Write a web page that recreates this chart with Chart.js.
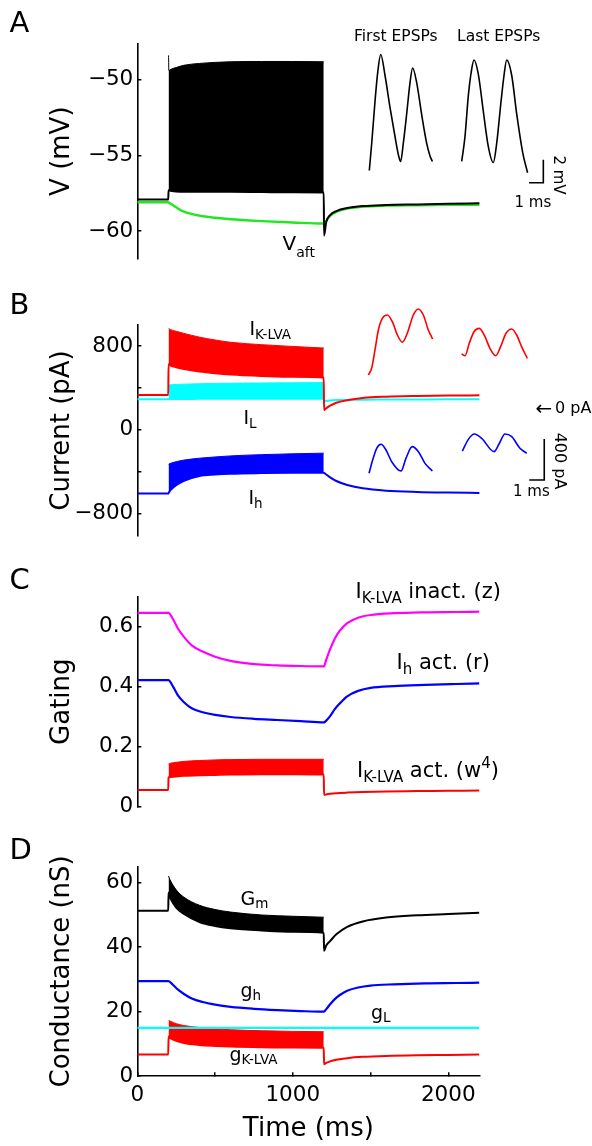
<!DOCTYPE html>
<html>
<head>
<meta charset="utf-8">
<script src="https://cdn.jsdelivr.net/npm/chart.js@4.4.1/dist/chart.umd.min.js"></script>
<style>
  html, body { margin: 0; padding: 0; background: #fff; }
  #fig { position: relative; width: 592px; height: 1146px; overflow: hidden; font-family: 'DejaVu Sans', sans-serif; color: #000; }
  #fig canvas { position: absolute; left: 0; }
  .lab { position: absolute; white-space: nowrap; line-height: 1; }
  .lab .sb { position: relative; }
  .rot { position: absolute; white-space: nowrap; line-height: 1; transform: translate(-50%, -50%) rotate(90deg); }
</style>
</head>
<body>
<div id="fig">
  <canvas id="panelA" width="592" height="280" style="top:0px"></canvas>
  <canvas id="panelB" width="592" height="300" style="top:280px"></canvas>
  <canvas id="panelC" width="592" height="280" style="top:560px"></canvas>
  <canvas id="panelD" width="592" height="306" style="top:840px"></canvas>
</div>
<script>
// ---- time grid (ms): before, during and after the 200-1200 ms train ----
const tPre  = [0, 199];
const tBand = [201, 203, 215, 250, 300, 400, 500, 600, 800, 1000, 1199];
const tPost = [1201, 1215, 1240, 1280, 1350, 1450, 1600, 1800, 2000, 2200];
const tSlow = [0, 200, 230, 260, 300, 350, 420, 500, 600, 750, 900, 1050, 1200,
               1215, 1240, 1270, 1300, 1350, 1420, 1500, 1650, 1850, 2050, 2200];

// ---- A: membrane potential (mV) ----
const vPre   = [-57.92, -57.92];
const vLow   = [-57.3, -57.3, -57.33, -57.38, -57.4, -57.4, -57.4, -57.4, -57.42, -57.44, -57.45];
const vHigh  = [-48.4, -49.4, -49.32, -49.2, -49.05, -48.93, -48.86, -48.82, -48.8, -48.8, -48.82];
const vPost  = [-60.3, -59.4, -58.95, -58.68, -58.48, -58.35, -58.28, -58.24, -58.2, -58.17];
const vaPre  = [-58.1, -58.1];
const vaStim = [-58.11, -58.12, -58.2, -58.43, -58.72, -58.98, -59.12, -59.22, -59.34, -59.43, -59.5];
const vaPost = [-59.48, -59.32, -59.0, -58.74, -58.52, -58.39, -58.32, -58.29, -58.27, -58.26];

// EPSP insets (ms, mV relative to trace start)
const firstEpspT = [0, 0.17, 0.40, 0.59, 0.80, 1.10, 1.45, 1.80, 2.03, 2.19, 2.38, 2.61, 2.85, 3.03, 3.31, 3.66, 4.01, 4.24, 4.41];
const firstEpspV = [0, 2.4, 6.05, 8.6, 10.13, 8.3, 5.5, 2.95, 1.4, 0.79, 2.4, 4.9, 7.7, 8.95, 7.7, 4.9, 2.4, 1.3, 0.79];
const lastEpspT  = [6.46, 6.69, 6.93, 7.16, 7.32, 7.62, 7.97, 8.32, 8.67, 8.91, 9.19, 9.42, 9.61, 9.96, 10.31, 10.73, 11.07];
const lastEpspV  = [0.79, 2.95, 6.61, 8.86, 9.65, 8.44, 5.2, 2.11, 0.7, 2.39, 5.77, 8.3, 9.65, 8.3, 4.92, 1.55, -0.2];
const barAT = [11.17, 12.17, 12.17];
const barAV = [-1.07, -1.07, 0.93];

// ---- B: currents (pA) ----
const ikPre  = [332, 332];
const ikLow  = [625, 622, 612, 597, 580, 556, 540, 528, 514, 505, 498];
const ikHigh = [968, 965, 955, 940, 920, 884, 857, 835, 812, 795, 780];
const ikPost = [189, 205, 230, 258, 282, 303, 315, 322, 326, 328];
const ilPre  = [291, 291];
const ilLow  = [292, 292, 293, 294, 294, 295, 295, 295, 295, 295, 295];
const ilHigh = [425, 427, 429, 432, 435, 439, 442, 444, 446, 448, 450];
const ilPost = [268, 276, 280, 283, 285, 287, 288, 289, 290, 290];
const ihPre  = [-610, -610];
const ihLow  = [-605, -600, -575, -530, -488, -442, -428, -420, -414, -411, -410];
const ihHigh = [-330, -327, -320, -305, -290, -272, -260, -250, -238, -230, -224];
const ihPost = [-412, -428, -455, -490, -528, -560, -582, -594, -600, -604];

// EPSC insets (ms, pA)
const ikFirstT = [0, 0.22, 0.445, 0.67, 0.935, 1.27, 1.6, 1.94, 2.27, 2.6, 3.0, 3.33, 3.67, 4.0, 4.29];
const ikFirstV = [325, 390, 569, 764, 878, 910, 845, 715, 644, 732, 910, 969, 910, 764, 676];
const ikLastT  = [6.22, 6.45, 6.73, 7.05, 7.4, 7.78, 8.11, 8.49, 8.82, 9.18, 9.56, 9.89, 10.22, 10.6];
const ikLastV  = [530, 513, 634, 747, 780, 699, 585, 513, 601, 732, 774, 715, 601, 488];
const ihFirstT = [0.05, 0.29, 0.56, 0.85, 1.18, 1.56, 2.18, 2.51, 2.93, 3.34, 3.78, 4.27];
const ihFirstV = [-634, -504, -390, -351, -407, -521, -612, -488, -374, -423, -537, -612];
const ihLastT  = [6.27, 6.67, 7.07, 7.56, 8.38, 8.74, 9.11, 9.56, 10.11, 10.56];
const ihLastV  = [-417, -303, -251, -293, -423, -341, -251, -277, -390, -439];
const barBT = [10.73, 11.73, 11.73];
const barBV = [-700, -700, -300];

// ---- C: gating variables ----
const zGate = [0.646, 0.646, 0.625, 0.595, 0.566, 0.538, 0.517, 0.5, 0.486, 0.475, 0.471, 0.469, 0.468,
               0.49, 0.525, 0.56, 0.585, 0.612, 0.63, 0.639, 0.645, 0.648, 0.649, 0.65];
const rGate = [0.422, 0.422, 0.4, 0.372, 0.348, 0.328, 0.315, 0.306, 0.299, 0.293, 0.289, 0.285, 0.281,
               0.287, 0.302, 0.325, 0.343, 0.368, 0.386, 0.396, 0.402, 0.406, 0.409, 0.411];
const w4Pre  = [0.056, 0.056];
const w4Low  = [0.097, 0.098, 0.099, 0.101, 0.103, 0.105, 0.106, 0.107, 0.108, 0.108, 0.107];
const w4High = [0.142, 0.143, 0.145, 0.148, 0.151, 0.154, 0.156, 0.157, 0.158, 0.158, 0.158];
const w4Post = [0.039, 0.041, 0.043, 0.045, 0.047, 0.049, 0.051, 0.052, 0.053, 0.054];

// ---- D: conductances (nS) ----
const gmPre  = [51.3, 51.3];
const gmLow  = [57.0, 56.5, 55.0, 52.3, 50.3, 47.8, 46.6, 45.9, 45.2, 44.8, 44.5];
const gmHigh = [62.1, 61.8, 60.5, 57.8, 55.5, 53.0, 51.7, 50.9, 50.0, 49.6, 49.3];
const gmPost = [38.9, 40.5, 41.9, 44.0, 46.3, 48.0, 49.2, 49.9, 50.3, 50.7];
const ghSlow = [29.5, 29.5, 28.3, 26.9, 25.5, 24.1, 23.0, 22.2, 21.5, 20.9, 20.5, 20.2, 20.0,
                20.8, 22.3, 23.9, 25.1, 26.5, 27.5, 28.1, 28.5, 28.8, 28.9, 29.0];
const glT = [0, 2200];
const glV = [15, 15];
const gkPre  = [6.7, 6.7];
const gkLow  = [12.3, 12.2, 11.7, 11.0, 10.3, 9.7, 9.4, 9.2, 9.0, 8.9, 8.8];
const gkHigh = [17.4, 17.3, 17.0, 16.3, 15.7, 15.1, 14.7, 14.4, 14.1, 13.9, 13.8];
const gkPost = [3.7, 4.1, 4.6, 5.1, 5.6, 6.0, 6.3, 6.5, 6.6, 6.7];

// ---- axis ticks ----
const vTicks = [-60, -55, -50];
const iTicks = [-800, -400, 0, 400, 800];
const iLabeled = [-800, 0, 800];
const gateTicks = [0, 0.2, 0.4, 0.6];
const gTicks = [0, 20, 40, 60];
const timeTicks = [0, 500, 1000, 1500, 2000];
const timeLabeled = [0, 1000, 2000];
const T_END = 2200;

// ---- layout (page pixels) ----
const FONT = 'DejaVu Sans';
const FIG_W = 592;
const AREA_LEFT = 137.3;
const AREA_RIGHT = 479.4;   // where T_END falls
const WIDE_RIGHT = 586;     // plot area of panels that carry insets on the right

const pts = (ts, vs) => ts.map((t, i) => ({ x: t, y: vs[i] }));
const minus = v => (v < 0 ? '\u2212' + Math.abs(v) : String(v));

function trace(data, color, width, extra) {
  return Object.assign({
    data, borderColor: color, backgroundColor: color, borderWidth: width,
    pointRadius: 0, fill: false, cubicInterpolationMode: 'monotone'
  }, extra || {});
}
// full trace: baseline, lower edge of the train, recovery
function mainTrace(pre, low, post, color) {
  return trace(pts(tPre.concat(tBand, tPost), pre.concat(low, post)), color, 2);
}
// upper edge of the train, filled down to the trace before it
function bandTop(high, color) {
  return trace(pts(tBand, high), color, 1, { fill: '-1' });
}
function inset(ts, vs, color) {
  return trace(pts(ts, vs), color, 1.6, { xAxisID: 'xi', yAxisID: 'yi', clip: false });
}
function scaleBar(ts, vs) {
  return trace(pts(ts, vs), '#000', 1.6, { xAxisID: 'xi', yAxisID: 'yi', clip: false, cubicInterpolationMode: 'default', tension: 0 });
}

function yAxis(range, ticks, labeled, fmt, title) {
  return {
    type: 'linear', position: 'left', min: range[0], max: range[1],
    afterFit: s => { s.width = AREA_LEFT; },
    afterBuildTicks: s => { s.ticks = ticks.map(v => ({ value: v })); },
    ticks: {
      color: '#000', font: { family: FONT, size: 21.5 }, padding: 8,
      callback: v => (labeled.includes(v) ? fmt(v) : '')
    },
    grid: { drawOnChartArea: false, color: '#000', lineWidth: 1.5, tickLength: -4 },
    border: { color: '#000', width: 1.6 },
    title: { display: true, text: title, color: '#000', font: { family: FONT, size: 26 }, padding: { top: 47, bottom: 0 } }
  };
}
// time axis without a drawn line; stretched so T_END still lands on AREA_RIGHT
function hiddenTime(areaRight) {
  return { type: 'linear', min: 0, max: T_END * (areaRight - AREA_LEFT) / (AREA_RIGHT - AREA_LEFT), display: false };
}
function insetX(originPx, pxPerUnit, areaRight) {
  return { type: 'linear', axis: 'x', position: 'bottom', display: false,
    min: (AREA_LEFT - originPx) / pxPerUnit, max: (areaRight - originPx) / pxPerUnit };
}
function insetY(originPx, pxPerUnit, areaTop, areaBottom) {
  return { type: 'linear', axis: 'y', position: 'left', display: false,
    min: (originPx - areaBottom) / pxPerUnit, max: (originPx - areaTop) / pxPerUnit };
}

function panel(id, canvasTop, canvasH, areaTop, areaBottom, areaRight, datasets, scales, bottomPad) {
  return new Chart(document.getElementById(id), {
    type: 'line',
    data: { datasets },
    options: {
      responsive: false, animation: false, events: [],
      layout: { padding: {
        left: 0, right: FIG_W - areaRight, top: areaTop - canvasTop,
        bottom: bottomPad !== undefined ? bottomPad : canvasTop + canvasH - areaBottom
      } },
      plugins: { legend: { display: false }, tooltip: { enabled: false } },
      scales
    }
  });
}

// ---- A ----
panel('panelA', 0, 280, 43.3, 266.7, WIDE_RIGHT, [
  mainTrace(vPre, vLow, vPost, '#000'),
  bandTop(vHigh, '#000'),
  trace(pts(tPre.concat(tBand, tPost), vaPre.concat(vaStim, vaPost)), '#1fe81f', 2.4),
  inset(firstEpspT, firstEpspV, '#000'),
  inset(lastEpspT, lastEpspV, '#000'),
  scaleBar(barAT, barAV)
], {
  x: hiddenTime(WIDE_RIGHT),
  y: yAxis([-61.85, -47.6], vTicks, vTicks, minus, 'V (mV)'),
  xi: insetX(369.3, 14.3, WIDE_RIGHT),
  yi: insetY(175, 11.85, 43.3, 266.7)
});

// ---- B ----
panel('panelB', 280, 300, 325, 536, WIDE_RIGHT, [
  mainTrace(ikPre, ikLow, ikPost, '#ff0000'),
  bandTop(ikHigh, '#ff0000'),
  mainTrace(ilPre, ilLow, ilPost, '#00ffff'),
  bandTop(ilHigh, '#00ffff'),
  mainTrace(ihPre, ihLow, ihPost, '#0000ff'),
  bandTop(ihHigh, '#0000ff'),
  inset(ikFirstT, ikFirstV, '#ff0000'),
  inset(ikLastT, ikLastV, '#ff0000'),
  inset(ihFirstT, ihFirstV, '#0000ff'),
  inset(ihLastT, ihLastV, '#0000ff'),
  scaleBar(barBT, barBV)
], {
  x: hiddenTime(WIDE_RIGHT),
  y: yAxis([-1015, 1000], iTicks, iLabeled, minus, 'Current (pA)'),
  xi: insetX(368.3, 15, WIDE_RIGHT),
  yi: insetY(408.3, 0.1025, 325, 536)
});

// ---- C ----
panel('panelC', 560, 280, 596.7, 806.7, AREA_RIGHT, [
  trace(pts(tSlow, zGate), '#ff00ff', 2.2),
  trace(pts(tSlow, rGate), '#0000ff', 2.2),
  mainTrace(w4Pre, w4Low, w4Post, '#ff0000'),
  bandTop(w4High, '#ff0000')
], {
  x: hiddenTime(AREA_RIGHT),
  y: yAxis([0, 0.7], gateTicks, gateTicks, v => String(v), 'Gating')
});

// ---- D ----
panel('panelD', 840, 306, 866.6, 1076.2, AREA_RIGHT, [
  trace(pts(glT, glV), '#00ffff', 2.2),
  mainTrace(gmPre, gmLow, gmPost, '#000'),
  bandTop(gmHigh, '#000'),
  trace(pts(tSlow, ghSlow), '#0000ff', 2.2),
  mainTrace(gkPre, gkLow, gkPost, '#ff0000'),
  bandTop(gkHigh, '#ff0000')
], {
  x: {
    type: 'linear', position: 'bottom', min: 0, max: T_END,
    afterFit: s => { s.height = 69.8; },
    afterBuildTicks: s => { s.ticks = timeTicks.map(v => ({ value: v })); },
    ticks: {
      color: '#000', font: { family: FONT, size: 21.5 }, padding: 10, maxRotation: 0, autoSkip: false,
      callback: v => (timeLabeled.includes(v) ? String(v) : '')
    },
    grid: { drawOnChartArea: false, color: '#000', lineWidth: 1.5, tickLength: -4 },
    border: { color: '#000', width: 1.6 },
    title: { display: true, text: 'Time (ms)', color: '#000', font: { family: FONT, size: 26 }, padding: { top: 0, bottom: 1.4 } }
  },
  y: yAxis([0, 65], gTicks, gTicks, v => String(v), 'Conductance (nS)')
}, 0);

// ---- text annotations ----
const fig = document.getElementById('fig');
const sub = (s, size, shift) => `<span class="sb" style="font-size:${size}px;top:${shift}px">${s}</span>`;

function addLabel(x, baseline, size, html) {
  const el = document.createElement('div');
  el.className = 'lab';
  el.style.left = x + 'px';
  el.style.top = (baseline - 0.846 * size) + 'px';
  el.style.fontSize = size + 'px';
  el.innerHTML = html;
  fig.appendChild(el);
}
function addRotated(cx, cy, size, text) {
  const el = document.createElement('div');
  el.className = 'rot';
  el.style.left = cx + 'px';
  el.style.top = cy + 'px';
  el.style.fontSize = size + 'px';
  el.textContent = text;
  fig.appendChild(el);
}

// panel letters
addLabel(9.5, 33, 29, 'A');
addLabel(9.5, 315, 29, 'B');
addLabel(9.5, 590, 29, 'C');
addLabel(9.5, 860, 29, 'D');

// A
addLabel(354, 42.5, 15.5, 'First EPSPs');
addLabel(457, 42.5, 15.5, 'Last EPSPs');
addLabel(282.5, 250, 20, 'V' + sub('aft', 14, 6.5));
addLabel(514.5, 207.5, 15, '1 ms');
addRotated(557.5, 175, 15, '2 mV');

// B
addLabel(249.5, 335, 19, 'I' + sub('K-LVA', 13.5, 4.3));
addLabel(243.5, 424, 19, 'I' + sub('L', 13.5, 4));
addLabel(248.5, 504, 19, 'I' + sub('h', 13.5, 4));
addLabel(535.5, 414.5, 20, '\u2190');
addLabel(555, 414, 16, '0 pA');
addRotated(560, 461, 16, '400 pA');
addLabel(513, 497, 15, '1 ms');

// C
addLabel(355.5, 598.5, 21, 'I' + sub('K-LVA', 15, 5) + ' inact. (z)');
addLabel(396.5, 670, 21, 'I' + sub('h', 15, 5) + ' act. (r)');
addLabel(357, 778, 21, 'I' + sub('K-LVA', 15, 5) + ' act. (w' + sub('4', 15, -9) + ')');

// D
addLabel(240.5, 905, 19, 'G' + sub('m', 13.5, 3.5));
addLabel(240.5, 997, 19, 'g' + sub('h', 13.5, 3.5));
addLabel(371, 1019, 19, 'g' + sub('L', 13.5, 3.5));
addLabel(229.5, 1061, 19, 'g' + sub('K-LVA', 13.5, 3.5));
</script>
</body>
</html>
